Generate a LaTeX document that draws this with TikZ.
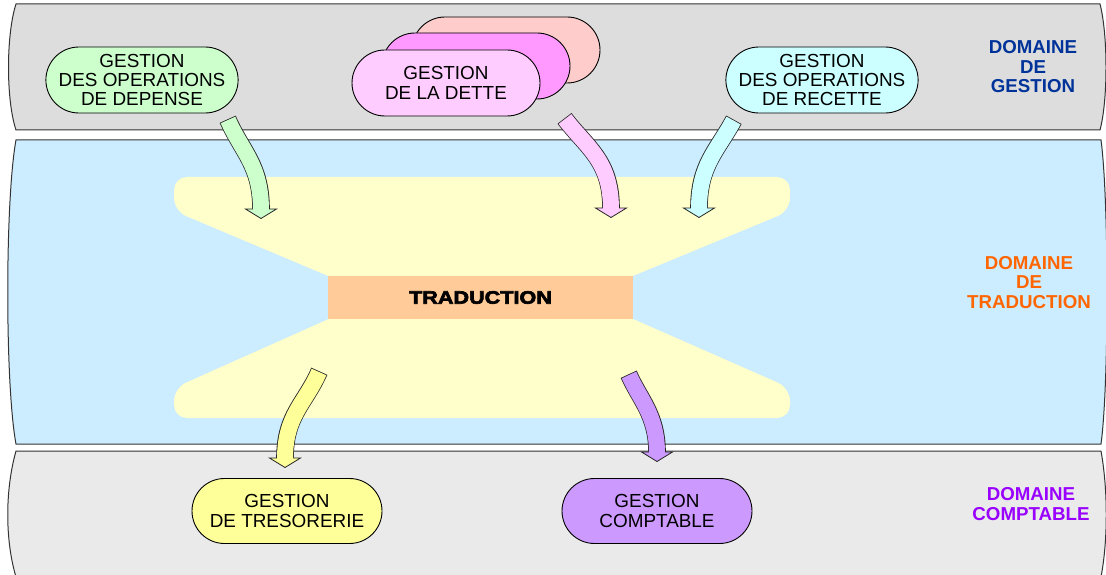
\documentclass[tikz,border=0pt]{standalone}
\usepackage{fontspec}
\setmainfont{Liberation Sans}
\newfontfamily\heavyfont{Liberation Sans}[BoldFeatures={FakeBold=3.5,FakeStretch=1.2}]
\usetikzlibrary{shapes.misc,calc}
\definecolor{bandtop}{HTML}{DDDDDD}
\definecolor{bandblue}{HTML}{CCECFF}
\definecolor{bandbot}{HTML}{EAEAEA}
\definecolor{funnel}{HTML}{FFFFCC}
\definecolor{orangebox}{HTML}{FFCC99}
\definecolor{cgreen}{HTML}{CCFFCC}
\definecolor{cpink}{HTML}{FFCCFF}
\definecolor{cmagenta}{HTML}{FF99FF}
\definecolor{csalmon}{HTML}{FFCCCC}
\definecolor{ccyan}{HTML}{CCFFFF}
\definecolor{cyellow}{HTML}{FFFF99}
\definecolor{cpurple}{HTML}{CC99FF}
\definecolor{tblue}{HTML}{003399}
\definecolor{torange}{HTML}{FF6600}
\definecolor{tpurple}{HTML}{9900FF}
\tikzset{
  bandshape/.style={draw=black!80, line width=1pt},
  pill/.style={rounded rectangle, draw=black, line width=0.9pt,
    minimum width=190pt, minimum height=66pt, inner sep=0pt, align=center,
    font=\fontsize{18.9}{19.4}\selectfont},
  domlabel/.style={align=center, font=\fontsize{18.7}{19.5}\selectfont\bfseries},
}
\newcommand\blockarrow[5]{%
  \draw[line width=17.6pt, draw=black!85, shorten <=-0.8pt] (#2) .. controls (#3) and (#4) .. (#5);
  \filldraw[fill=#1, draw=black!85, line width=0.8pt, line join=miter]
    ($(#5)+(-15.5,0)$) -- ($(#5)+(0,9.5)$) -- ($(#5)+(15.5,0)$) -- cycle;
  \draw[line width=16pt, draw=#1, shorten >=-1.2pt] (#2) .. controls (#3) and (#4) .. (#5);
}
\begin{document}
\begin{tikzpicture}[x=1pt,y=-1pt]
\useasboundingbox (0,0) rectangle (1106,575);
% bands
\filldraw[bandshape, fill=bandtop] (16,4) -- (1100,4) .. controls (1108,35) and (1108,100) .. (1100,130)
  -- (16,130) .. controls (6,100) and (6,35) .. cycle;
\filldraw[bandshape, fill=bandblue] (16,140) -- (1101,140) .. controls (1109,200) and (1109,385) .. (1101,444)
  -- (16,444) .. controls (5,385) and (5,200) .. cycle;
\filldraw[bandshape, fill=bandbot] (16,451) -- (1101,451) .. controls (1108,490) and (1108,540) .. (1101,577)
  -- (16,577) .. controls (5,540) and (5,490) .. cycle;
% funnel
\fill[funnel, rounded corners=13pt] (174,177) -- (790,177) -- (790,211) -- (570,302) -- (390,302) -- (174,211) -- cycle;
\fill[funnel, rounded corners=13pt] (174,418) -- (174,388) -- (387,293) -- (574,293) -- (790,388) -- (790,418) -- cycle;
\node[fill=orangebox, minimum width=305pt, minimum height=43pt, inner sep=0pt,
  font=\heavyfont\bfseries\fontsize{18}{20}\selectfont] (trad) at (480.5,297.5) {TRADUCTION};
% bubbles
\node[pill, fill=cgreen] (depense) at (142,80) {GESTION\\DES OPERATIONS\\DE DEPENSE};
\node[pill, fill=csalmon, minimum width=188pt] (detteC) at (506,50) {};
\node[pill, fill=cmagenta, minimum width=188pt] (detteB) at (476,66) {};
\node[pill, fill=cpink, minimum width=188pt] (dette) at (446,83) {GESTION\\DE LA DETTE};
\node[pill, fill=ccyan] (recette) at (822,80) {GESTION\\DES OPERATIONS\\DE RECETTE};
\node[pill, fill=cyellow, minimum height=65pt] (treso) at (287,511) {GESTION\\DE TRESORERIE};
\node[pill, fill=cpurple, minimum height=65pt] (compta) at (657,511) {GESTION\\COMPTABLE};
% domain labels
\node[domlabel, text=tblue] (dgest) at (1033,67) {DOMAINE\\DE\\GESTION};
\node[domlabel, text=torange] (dtrad) at (1029,282.5) {DOMAINE\\DE\\TRADUCTION};
\node[domlabel, text=tpurple] (dcompta) at (1031,504) {DOMAINE\\COMPTABLE};
% arrow coordinates
\coordinate (gS) at (228,120); \coordinate (g1) at (242,152); \coordinate (g2) at (261,165); \coordinate (gE) at (261,209);
\coordinate (pS) at (565,119); \coordinate (p1) at (586,147); \coordinate (p2) at (611,160); \coordinate (pE) at (611,208);
\coordinate (cS) at (733.5,120.5); \coordinate (c1) at (717,151); \coordinate (c2) at (699,165); \coordinate (cE) at (699,208);
\coordinate (yS) at (319,372); \coordinate (y1) at (305,404); \coordinate (y2) at (285,415); \coordinate (yE) at (285,458);
\coordinate (uS) at (629,375); \coordinate (u1) at (640,400); \coordinate (u2) at (657,415); \coordinate (uE) at (657,452);
\blockarrow{cgreen}{gS}{g1}{g2}{gE}
\blockarrow{cpink}{pS}{p1}{p2}{pE}
\blockarrow{ccyan}{cS}{c1}{c2}{cE}
\blockarrow{cyellow}{yS}{y1}{y2}{yE}
\blockarrow{cpurple}{uS}{u1}{u2}{uE}
\end{tikzpicture}
\end{document}
